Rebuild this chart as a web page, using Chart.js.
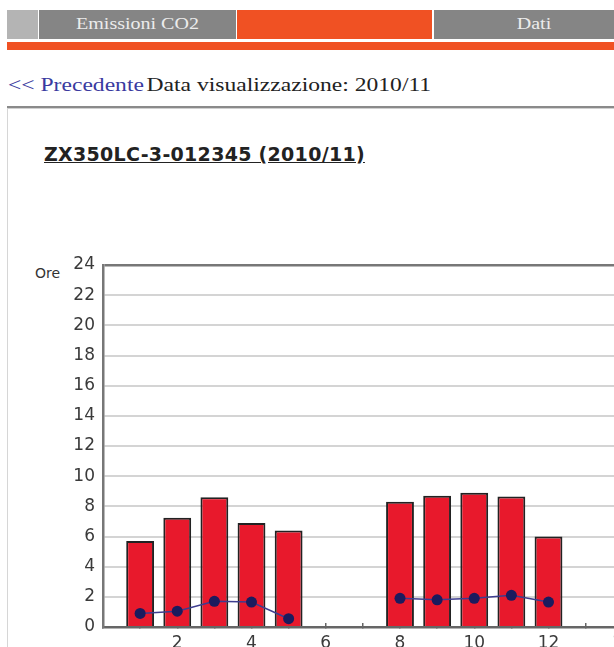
<!DOCTYPE html>
<html>
<head>
<meta charset="utf-8">
<script src="https://cdn.jsdelivr.net/npm/chart.js@4.4.0/dist/chart.umd.min.js"></script>
<style>
    html, body { margin: 0; padding: 0; background: #fff; }
    body { width: 614px; height: 647px; overflow: hidden; position: relative; }
    .blk { position: absolute; }
    .tab { position: absolute; top: 10px; height: 29px; }
    .tab span {
        position: absolute; left: 0; right: 0; top: 5px; text-align: center;
        font-family: "Liberation Serif", serif; font-size: 16px; color: #ececec;
        transform: scaleX(1.25);
    }
    .nav-text {
        position: absolute; left: 8px; top: 75px; white-space: nowrap;
        font-family: "Liberation Serif", serif; font-size: 18px; color: #222;
        transform: scaleX(1.31); transform-origin: left center;
    }
    .nav-text a { color: #3a3aa0; text-decoration: none; margin-right: 2px; }
    .title {
        position: absolute; left: 44px; top: 143px; white-space: nowrap;
        font-family: "DejaVu Sans", sans-serif; font-weight: bold; font-size: 19px;
        color: #222; text-decoration: underline; letter-spacing: 0.3px;
    }
    .ore {
        position: absolute; left: 35px; top: 265px;
        font-family: "DejaVu Sans", sans-serif; font-size: 14px; color: #333;
    }
    #chartBox { position: absolute; left: 0; top: 240px; width: 720px; height: 420px; }
</style>
</head>
<body>
    <!-- header tabs -->
    <div class="tab" style="left:7px;width:31px;background:#b4b4b4;"></div>
    <div class="tab" style="left:39px;width:197px;background:#858585;"><span>Emissioni CO2</span></div>
    <div class="tab" style="left:237px;width:195px;background:#f05123;"></div>
    <div class="tab" style="left:434px;width:200px;background:#858585;"><span>Dati</span></div>
    <div class="blk" style="left:7px;top:42px;width:620px;height:8px;background:#f05123;"></div>

    <div class="nav-text"><a href="#">&lt;&lt; Precedente</a>Data visualizzazione: 2010/11</div>
    <div class="blk" style="left:7px;top:106px;width:620px;height:2px;background:#8a8a8a;"></div>
    <div class="blk" style="left:7px;top:108px;width:620px;height:1px;background:#d0d0d0;"></div>
    <div class="blk" style="left:7px;top:108px;width:1px;height:560px;background:#d6d6d6;"></div>

    <div class="title">ZX350LC-3-012345 (2010/11)</div>
    <div class="ore">Ore</div>

    <div id="chartBox"><canvas id="oreChart"></canvas></div>

<script>
// Giorni del mese, ore motore acceso (barre) e ore di lavoro (linea)
const days = [1, 2, 3, 4, 5, 6, 7, 8, 9, 10, 11, 12];
const engineHours = [5.7, 7.25, 8.6, 6.9, 6.4, null, null, 8.3, 8.7, 8.9, 8.65, 6.0];
const workHours = [0.9, 1.05, 1.7, 1.65, 0.55, null, null, 1.9, 1.8, 1.9, 2.1, 1.65];
const yMin = 0, yMax = 24, yStep = 2;
const xMin = 0, xMax = 16;

document.addEventListener('DOMContentLoaded', function() {
    const ctx = document.getElementById('oreChart').getContext('2d');

    new Chart(ctx, {
        type: 'bar',
        data: {
            datasets: [{
                type: 'line',
                data: days.map((d, i) => ({ x: d, y: workHours[i] })),
                borderColor: '#3d3d8f',
                borderWidth: 1.5,
                pointRadius: 5.5,
                pointBackgroundColor: '#1b1b5e',
                pointBorderColor: '#1b1b5e',
                pointBorderWidth: 0,
                spanGaps: false,
                tension: 0,
                order: 0
            }, {
                type: 'bar',
                data: days.map((d, i) => ({ x: d, y: engineHours[i] })),
                backgroundColor: '#e8192c',
                borderColor: '#222',
                borderWidth: 2,
                categoryPercentage: 0.75,
                barPercentage: 1,
                order: 1
            }]
        },
        options: {
            responsive: true,
            maintainAspectRatio: false,
            animation: false,
            layout: { padding: { left: 0, top: 25, right: 23, bottom: 0 } },
            plugins: {
                legend: { display: false },
                tooltip: { enabled: false }
            },
            scales: {
                x: {
                    type: 'linear',
                    min: xMin,
                    max: xMax,
                    offset: false,
                    grid: {
                        offset: false,
                        drawOnChartArea: false,
                        drawTicks: true,
                        tickLength: -4,
                        color: '#666',
                        lineWidth: 1.5
                    },
                    border: { display: true, color: '#666', width: 2.5 },
                    ticks: {
                        stepSize: 1,
                        autoSkip: false,
                        maxRotation: 0,
                        padding: 10,
                        color: '#3a3a3a',
                        font: { family: 'DejaVu Sans', size: 17 },
                        callback: function(value) {
                            return (value > 0 && value % 2 === 0) ? value : '';
                        }
                    },
                    afterFit: function(scale) { scale.height = 33; }
                },
                y: {
                    min: yMin,
                    max: yMax,
                    grid: {
                        drawTicks: false,
                        color: c => c.tick.value === yMax ? '#777' : '#d4d4d4',
                        lineWidth: c => c.tick.value === yMax ? 2.5 : 2
                    },
                    border: { display: true, color: '#777', width: 2.5 },
                    ticks: {
                        stepSize: yStep,
                        padding: 8,
                        color: '#3a3a3a',
                        font: { family: 'DejaVu Sans', size: 17 }
                    },
                    afterFit: function(scale) { scale.width = 103; }
                }
            }
        }
    });
});
</script>
</body>
</html>
